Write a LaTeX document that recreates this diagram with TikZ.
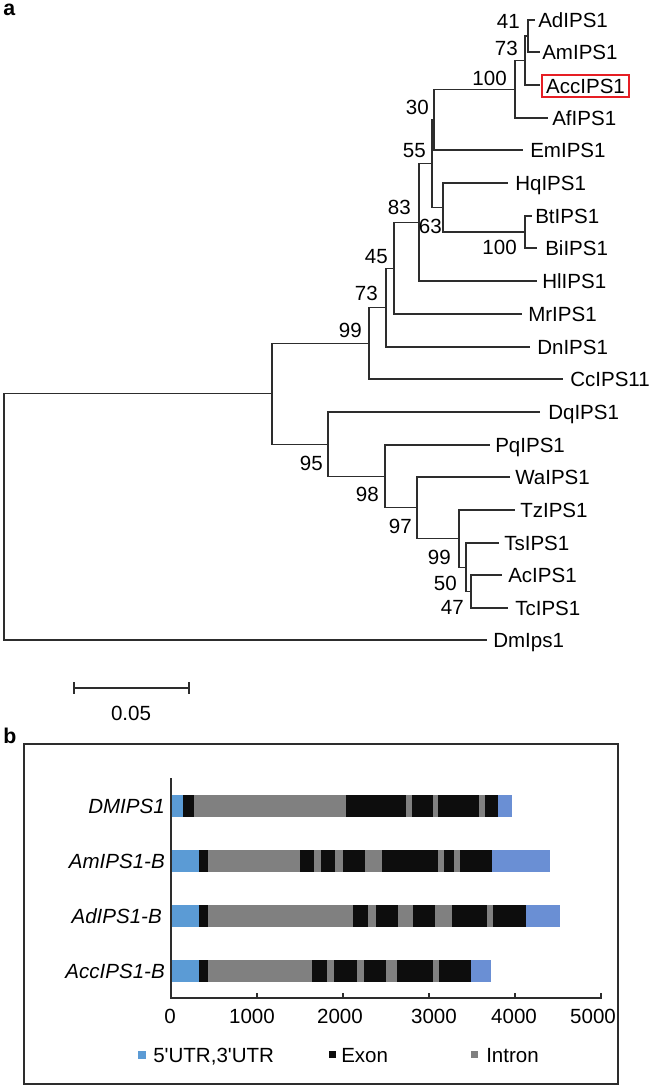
\documentclass[tikz,border=0pt]{standalone}
\usepackage{fontspec}
\setmainfont{Liberation Sans}
\usepackage{tikz}

\definecolor{utrfive}{RGB}{91,155,213}
\definecolor{utrthree}{RGB}{106,143,212}
\definecolor{exon}{RGB}{13,13,13}
\definecolor{intron}{RGB}{128,128,128}
\definecolor{branch}{RGB}{45,45,45}
\definecolor{boxred}{RGB}{230,30,36}

\begin{document}
\begin{tikzpicture}[x=0.75pt, y=-0.75pt,
  font=\fontsize{15.4}{18}\selectfont,
  branch/.style={draw=branch, line width=0.9pt},
  taxon/.style={anchor=west, inner sep=0pt, text height=11pt, text depth=0pt},
  boot/.style={anchor=east, inner sep=0pt, text height=11pt, text depth=0pt},
  gene/.style={anchor=east, inner sep=0pt, text height=11pt, text depth=0pt, font=\fontsize{15.4}{18}\selectfont\itshape},
  tick/.style={inner sep=0pt, text height=11pt, text depth=0pt},
  panel/.style={inner sep=0pt, font=\fontsize{16}{18}\selectfont\bfseries}]

\useasboundingbox (0,0) rectangle (649,1088);

%--- Panel a: tree ---
\node[panel, anchor=north west] (pa) at (3,4) {a};

% tips
\coordinate (tAd) at (535,20);
\coordinate (tAm) at (540,52);
\coordinate (tAcc) at (540,85);
\coordinate (tAf) at (548,118);
\coordinate (tEm) at (523,150);
\coordinate (tHq) at (508,183);
\coordinate (tBt) at (532,216);
\coordinate (tBi) at (537,248);
\coordinate (tHl) at (537,281);
\coordinate (tMr) at (522,314);
\coordinate (tDn) at (530,347);
\coordinate (tCc) at (563,379);
\coordinate (tDq) at (540,412);
\coordinate (tPq) at (490,445);
\coordinate (tWa) at (510,477);
\coordinate (tTz) at (515,510);
\coordinate (tTs) at (499,543);
\coordinate (tAc) at (502,575);
\coordinate (tTc) at (508,608);
\coordinate (tDm) at (487,640);

% internal nodes
\coordinate (n41) at (528,36);
\coordinate (n73a) at (525,60.5);
\coordinate (n100a) at (515,89.3);
\coordinate (n30) at (434,119.6);
\coordinate (n100b) at (525,232);
\coordinate (n63) at (443,207.5);
\coordinate (n55) at (432,163.6);
\coordinate (n83) at (419,222.3);
\coordinate (n45) at (394,268.2);
\coordinate (n73) at (386,307.6);
\coordinate (n99) at (369,343.3);
\coordinate (n47) at (471,591.5);
\coordinate (n50) at (466,567.3);
\coordinate (n99b) at (459,538.6);
\coordinate (n97) at (417,507.8);
\coordinate (n98) at (385,476.4);
\coordinate (n95) at (328,444.2);
\coordinate (nA) at (272,393.8);
\coordinate (nR) at (4,516.9);

% branches
\draw[branch] (n41) |- (tAd) (n41) |- (tAm)
  (n73a) |- (n41) (n73a) |- (tAcc)
  (n100a) |- (n73a) (n100a) |- (tAf)
  (n30) |- (n100a) (n30) |- (tEm)
  (n55) |- (n30) (n55) |- (n63)
  (n63) |- (tHq) (n63) |- (n100b)
  (n100b) |- (tBt) (n100b) |- (tBi)
  (n83) |- (n55) (n83) |- (tHl)
  (n45) |- (n83) (n45) |- (tMr)
  (n73) |- (n45) (n73) |- (tDn)
  (n99) |- (n73) (n99) |- (tCc)
  (nA) |- (n99) (nA) |- (n95)
  (n95) |- (tDq) (n95) |- (n98)
  (n98) |- (tPq) (n98) |- (n97)
  (n97) |- (tWa) (n97) |- (n99b)
  (n99b) |- (tTz) (n99b) |- (n50)
  (n50) |- (tTs) (n50) |- (n47)
  (n47) |- (tAc) (n47) |- (tTc)
  (nR) |- (nA) (nR) |- (tDm);

% taxon labels
\node[taxon] (lAd) at (538,20) {AdIPS1};
\node[taxon] (lAm) at (542,52) {AmIPS1};
\node[taxon, draw=boxred, line width=1.5pt, inner xsep=3.1pt, inner ysep=2.6pt] (lAcc) at (541,86) {AccIPS1};
\node[taxon] (lAf) at (552,118) {AfIPS1};
\node[taxon] (lEm) at (530,150) {EmIPS1};
\node[taxon] (lHq) at (515,183) {HqIPS1};
\node[taxon] (lBt) at (535,216) {BtIPS1};
\node[taxon] (lBi) at (545,248) {BiIPS1};
\node[taxon] (lHl) at (542,281) {HlIPS1};
\node[taxon] (lMr) at (528,314) {MrIPS1};
\node[taxon] (lDn) at (537,347) {DnIPS1};
\node[taxon] (lCc) at (570,379) {CcIPS11};
\node[taxon] (lDq) at (548,412) {DqIPS1};
\node[taxon] (lPq) at (495,445) {PqIPS1};
\node[taxon] (lWa) at (515,477) {WaIPS1};
\node[taxon] (lTz) at (520,510) {TzIPS1};
\node[taxon] (lTs) at (504,543) {TsIPS1};
\node[taxon] (lAc) at (508,575) {AcIPS1};
\node[taxon] (lTc) at (515,608) {TcIPS1};
\node[taxon] (lDm) at (493,640) {DmIps1};

% bootstrap values
\node[boot] (b41) at (520,21) {41};
\node[boot] (b73a) at (518,48) {73};
\node[boot] (b100a) at (507,78) {100};
\node[boot] (b30) at (429,107) {30};
\node[boot] (b55) at (426,150) {55};
\node[boot] (b63) at (442,226) {63};
\node[boot] (b83) at (411,207) {83};
\node[boot] (b100b) at (517,247) {100};
\node[boot] (b45) at (388,256) {45};
\node[boot] (b73) at (378,293) {73};
\node[boot] (b99) at (362,330) {99};
\node[boot] (b95) at (323,463) {95};
\node[boot] (b98) at (379,494) {98};
\node[boot] (b97) at (412,526) {97};
\node[boot] (b99b) at (451,557) {99};
\node[boot] (b50) at (457,583) {50};
\node[boot] (b47) at (464,607) {47};

% scale bar
\draw[branch] (74,688) -- (189,688);
\draw[branch] (74,682) -- (74,694);
\draw[branch] (189,682) -- (189,694);
\node[tick] (sbar) at (131,713) {0.05};

%--- Panel b: gene structure ---
\node[panel, anchor=north west] (pb) at (3,728) {b};
\draw[draw=branch, line width=0.9pt] (24,744) rectangle (618,1084);

% bars (x in bp)
\begin{scope}[xshift=128.25pt, x=0.0645pt]
  \foreach \s/\e/\c in {0/140/utrfive, 140/267/exon, 267/2032/intron, 2032/2727/exon,
      2727/2802/intron, 2802/3047/exon, 3047/3110/intron, 3110/3576/exon,
      3576/3652/intron, 3652/3805/exon, 3805/3960/utrthree}
    \fill[\c] (\s,795) rectangle (\e,817);
  \foreach \s/\e/\c in {0/325/utrfive, 325/434/exon, 434/1502/intron, 1502/1660/exon,
      1660/1743/intron, 1743/1910/exon, 1910/1997/intron, 1997/2258/exon,
      2258/2450/intron, 2450/3108/exon, 3108/3178/intron, 3178/3286/exon,
      3286/3358/intron, 3358/3732/exon, 3732/4409/utrthree}
    \fill[\c] (\s,850) rectangle (\e,872);
  \foreach \s/\e/\c in {0/325/utrfive, 325/434/exon, 434/2121/intron, 2121/2295/exon,
      2295/2380/intron, 2380/2643/exon, 2643/2818/intron, 2818/3070/exon,
      3070/3264/intron, 3264/3679/exon, 3679/3749/intron, 3749/4129/exon,
      4129/4524/utrthree}
    \fill[\c] (\s,905) rectangle (\e,927);
  \foreach \s/\e/\c in {0/322/utrfive, 322/434/exon, 434/1645/intron, 1645/1810/exon,
      1810/1900/intron, 1900/2164/exon, 2164/2239/intron, 2239/2499/exon,
      2499/2624/intron, 2624/3042/exon, 3042/3113/intron, 3113/3492/exon,
      3492/3720/utrthree}
    \fill[\c] (\s,960) rectangle (\e,982);
\end{scope}

% gene names
\node[gene] (gDM) at (165,806) {DMIPS1};
\node[gene] (gAm) at (165,861) {AmIPS1-B};
\node[gene] (gAd) at (162,916) {AdIPS1-B};
\node[gene] (gAcc) at (165,971) {AccIPS1-B};

% axes
\draw[draw=branch, line width=0.8pt] (171,778) -- (171,998) -- (602,998);
\foreach \k in {1,...,5}
  \draw[draw=branch, line width=0.8pt] (171+86*\k,998) -- (171+86*\k,993);
\foreach \x/\t in {170/0, 252/1000, 340/2000, 434/3000, 514/4000, 593/5000}
  \node[tick] at (\x,1016) {\t};

% legend
\fill[utrfive] (138,1051) rectangle (146,1059);
\node[taxon] (kutr) at (153,1055) {5\textquotesingle UTR,3\textquotesingle UTR};
\fill[exon] (329,1051) rectangle (336,1058);
\node[taxon] (kexon) at (341,1055) {Exon};
\fill[intron] (471,1051) rectangle (478,1058);
\node[taxon] (kintron) at (486,1055) {Intron};
\end{tikzpicture}
\end{document}
